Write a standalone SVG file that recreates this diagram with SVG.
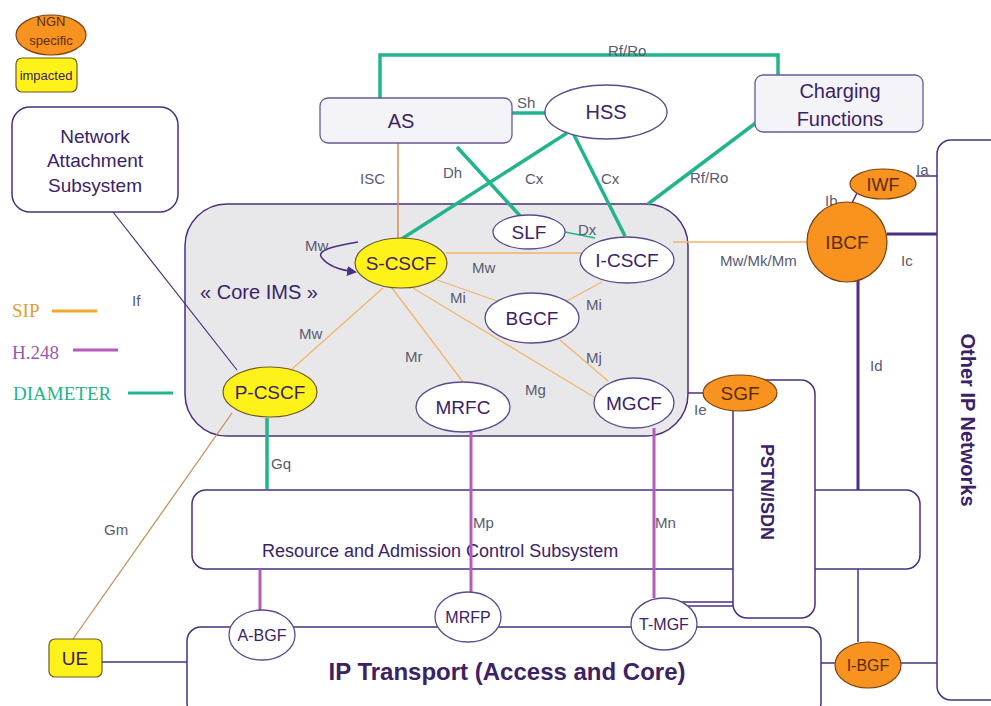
<svg xmlns="http://www.w3.org/2000/svg" width="991" height="706" viewBox="0 0 991 706">
<defs>
<style>
.box{fill:#ffffff;stroke:#4a2f80;stroke-width:1.5}
.lbox{fill:#f4f4f8;stroke:#6a5a92;stroke-width:1.3}
.wnode{fill:#ffffff;stroke:#5b4a8b;stroke-width:1.3}
.ynode{fill:#fff21a;stroke:#6e5a20;stroke-width:1.2}
.onode{fill:#f7931e;stroke:#7a4010;stroke-width:1.2}
.t{font-family:"Liberation Sans",Arial,sans-serif;fill:#3b2266;text-anchor:middle}
.nt{font-size:19px}
.ot{fill:#5a2a08}
.b{font-weight:bold}
.lab{font-family:"Liberation Sans",Arial,sans-serif;font-size:15px;fill:#5a5a70}
.sip{stroke:#f2b56a;stroke-width:1.3;fill:none}
.sip2{stroke:#c8905a;stroke-width:1.3;fill:none}
.dia{stroke:#22b48c;stroke-width:3.5;fill:none}
.dia1{stroke:#22b48c;stroke-width:1.5;fill:none}
.h248{stroke:#b65bb9;stroke-width:3;fill:none}
.pl{stroke:#4a2f80;stroke-width:1.5;fill:none}
.plt{stroke:#4a2f80;stroke-width:3;fill:none}
.leg{font-family:"Liberation Serif","Times New Roman",serif;font-size:19px}
</style>
<marker id="arr" markerWidth="10" markerHeight="10" refX="8" refY="5" orient="auto" markerUnits="userSpaceOnUse">
<path d="M0,0 L10,5 L0,10 z" fill="#4a2f80"/>
</marker>
</defs>

<!-- legend -->
<g id="legend">
<ellipse cx="51" cy="35" rx="35" ry="20" class="onode"/>
<text x="51" y="26" class="t ot" font-size="13">NGN</text>
<text x="51" y="45" class="t ot" font-size="13">specific</text>
<rect x="16" y="58" width="61" height="34" rx="6" class="ynode"/>
<text x="46" y="80" class="t" font-size="13" fill="#333">impacted</text>
<text x="12" y="317" class="leg" fill="#e0a030">SIP</text>
<line x1="52" y1="311" x2="97" y2="311" stroke="#f0a830" stroke-width="3"/>
<text x="12" y="359" class="leg" fill="#9b59a8">H.248</text>
<line x1="73" y1="350" x2="118" y2="350" stroke="#b65bb9" stroke-width="3"/>
<text x="13" y="400" class="leg" fill="#22b48c">DIAMETER</text>
<line x1="128" y1="393" x2="173" y2="393" stroke="#22b48c" stroke-width="3"/>
</g>

<!-- big containers -->
<g id="other-ip">
<rect x="937" y="140" width="80" height="560" rx="14" class="box"/>
<text transform="translate(961,420) rotate(90)" class="t b" font-size="20">Other IP Networks</text>
</g>
<g id="racs">
<rect x="192" y="490" width="728" height="79" rx="14" class="box"/>
<text x="262" y="557" class="t" font-size="18" style="text-anchor:start">Resource and Admission Control Subsystem</text>
</g>
<g id="ip-transport">
<rect x="187" y="627" width="634" height="90" rx="14" class="box"/>
<text x="507" y="680" class="t b" font-size="24">IP Transport (Access and Core)</text>
</g>
<g id="pstn">
<rect x="733" y="380" width="82" height="238" rx="14" class="box"/>
<text transform="translate(761,492) rotate(90)" class="t b" font-size="18">PSTN/ISDN</text>
</g>
<g id="core-ims">
<rect x="185" y="204" width="503" height="232" rx="42" fill="#e8e8ea" stroke="#4a2f80" stroke-width="1.5"/>
<text x="259" y="299" class="t" font-size="20">« Core IMS »</text>
</g>

<!-- connectors -->
<g id="connectors">
<polyline points="380,98 380,55 778,55 778,75" class="dia"/>
<line x1="512" y1="113" x2="545" y2="113" class="dia"/>
<line x1="398" y1="143" x2="398" y2="238" stroke="#c99056" stroke-width="1.5"/>
<line x1="457" y1="147" x2="522" y2="218" class="dia"/>
<line x1="567" y1="133" x2="400" y2="240" class="dia"/>
<line x1="573" y1="133" x2="625" y2="236" class="dia"/>
<line x1="757" y1="122" x2="648" y2="204" class="dia"/>
<line x1="565" y1="232" x2="595" y2="238" class="dia1"/>
<path d="M358,242 C335,246 315,250 322,258 C328,266 340,270 355,272" class="pl" marker-end="url(#arr)"/>
<line x1="446" y1="253" x2="581" y2="253" class="sip"/>
<line x1="673" y1="242" x2="807" y2="242" class="sip"/>
<line x1="437" y1="280" x2="500" y2="302" class="sip"/>
<line x1="602" y1="282" x2="565" y2="302" class="sip"/>
<line x1="560" y1="340" x2="608" y2="381" class="sip"/>
<line x1="413" y1="288" x2="594" y2="397" class="sip"/>
<line x1="392" y1="288" x2="463" y2="382" class="sip"/>
<line x1="383" y1="288" x2="292" y2="369" class="sip"/>
<line x1="113" y1="212" x2="237" y2="370" stroke="#4a2f80" stroke-width="1.2"/>
<line x1="267" y1="418" x2="267" y2="489" class="dia"/>
<line x1="232" y1="413" x2="73" y2="639" class="sip2"/>
<line x1="471" y1="432" x2="471" y2="592" class="h248"/>
<line x1="654" y1="428" x2="654" y2="598" class="h248"/>
<line x1="260" y1="569" x2="260" y2="610" class="h248"/>
<line x1="681" y1="602" x2="733" y2="602" class="pl" stroke-width="2"/>
<line x1="684" y1="606" x2="733" y2="606" class="pl" stroke-width="2"/>
<line x1="102" y1="662" x2="187" y2="662" class="pl" stroke-width="1.2"/>
<line x1="688" y1="393" x2="705" y2="393" class="pl" stroke-width="1.2"/>
<line x1="887" y1="234" x2="937" y2="234" class="plt"/>
<line x1="916" y1="176" x2="937" y2="176" class="pl"/>
<line x1="851" y1="205" x2="857" y2="193" class="pl"/>
<line x1="858" y1="278" x2="858" y2="490" class="plt"/>
<line x1="858" y1="569" x2="858" y2="642" class="pl" stroke-width="1.2"/>
<line x1="821" y1="663" x2="835" y2="663" class="pl"/>
<line x1="901" y1="663" x2="937" y2="663" class="pl"/>
</g>

<!-- interface labels -->
<g id="labels">
<text x="608" y="56" class="lab">Rf/Ro</text>
<text x="517" y="108" class="lab">Sh</text>
<text x="360" y="184" class="lab">ISC</text>
<text x="443" y="178" class="lab">Dh</text>
<text x="525" y="184" class="lab">Cx</text>
<text x="601" y="184" class="lab">Cx</text>
<text x="690" y="183" class="lab">Rf/Ro</text>
<text x="578" y="235" class="lab">Dx</text>
<text x="305" y="251" class="lab">Mw</text>
<text x="472" y="273" class="lab">Mw</text>
<text x="450" y="303" class="lab">Mi</text>
<text x="586" y="310" class="lab">Mi</text>
<text x="586" y="363" class="lab">Mj</text>
<text x="299" y="339" class="lab">Mw</text>
<text x="405" y="362" class="lab">Mr</text>
<text x="525" y="395" class="lab">Mg</text>
<text x="694" y="415" class="lab">Ie</text>
<text x="720" y="266" class="lab">Mw/Mk/Mm</text>
<text x="825" y="206" class="lab">Ib</text>
<text x="916" y="175" class="lab">Ia</text>
<text x="901" y="266" class="lab">Ic</text>
<text x="870" y="371" class="lab">Id</text>
<text x="132" y="306" class="lab">If</text>
<text x="271" y="469" class="lab">Gq</text>
<text x="104" y="535" class="lab">Gm</text>
<text x="473" y="528" class="lab">Mp</text>
<text x="655" y="528" class="lab">Mn</text>
</g>

<!-- nodes -->
<g id="nass">
<rect x="12" y="107" width="166" height="105" rx="18" class="box"/>
<text x="95" y="143" class="t nt">Network</text>
<text x="95" y="167" class="t nt">Attachment</text>
<text x="95" y="192" class="t nt">Subsystem</text>
</g>
<g id="as">
<rect x="320" y="98" width="192" height="45" rx="8" class="lbox"/>
<text x="401" y="128" class="t" font-size="20">AS</text>
</g>
<g id="hss">
<ellipse cx="606" cy="112" rx="61" ry="27" class="wnode"/>
<text x="606" y="119" class="t" font-size="20">HSS</text>
</g>
<g id="charging">
<rect x="755" y="75" width="168" height="57" rx="8" class="lbox"/>
<text x="840" y="98" class="t" font-size="20">Charging</text>
<text x="840" y="126" class="t" font-size="20">Functions</text>
</g>
<g id="s-cscf">
<ellipse cx="401" cy="263" rx="46" ry="25" class="ynode"/>
<text x="401" y="270" class="t nt" fill="#3b2266">S-CSCF</text>
</g>
<g id="p-cscf">
<ellipse cx="270" cy="392" rx="47" ry="25" class="ynode"/>
<text x="270" y="399" class="t nt">P-CSCF</text>
</g>
<g id="slf">
<ellipse cx="529" cy="232" rx="36" ry="17" class="wnode"/>
<text x="529" y="239" class="t nt">SLF</text>
</g>
<g id="i-cscf">
<ellipse cx="627" cy="260" rx="47" ry="23" class="wnode"/>
<text x="627" y="267" class="t nt">I-CSCF</text>
</g>
<g id="bgcf">
<ellipse cx="532" cy="318" rx="47" ry="25" class="wnode"/>
<text x="532" y="325" class="t nt">BGCF</text>
</g>
<g id="mrfc">
<ellipse cx="463" cy="407" rx="47" ry="25" class="wnode"/>
<text x="463" y="414" class="t nt">MRFC</text>
</g>
<g id="mgcf">
<ellipse cx="634" cy="403" rx="40" ry="25" class="wnode"/>
<text x="634" y="410" class="t nt">MGCF</text>
</g>
<g id="ibcf">
<circle cx="847" cy="242" r="40" class="onode"/>
<text x="847" y="249" class="t nt ot">IBCF</text>
</g>
<g id="iwf">
<ellipse cx="883" cy="184" rx="33" ry="15" class="onode"/>
<text x="883" y="191" class="t ot" font-size="18">IWF</text>
</g>
<g id="sgf">
<ellipse cx="740" cy="393" rx="37" ry="18" class="onode"/>
<text x="740" y="400" class="t nt ot">SGF</text>
</g>
<g id="a-bgf">
<ellipse cx="262" cy="635" rx="33" ry="25" class="wnode"/>
<text x="262" y="641" class="t" font-size="16">A-BGF</text>
</g>
<g id="mrfp">
<ellipse cx="468" cy="617" rx="33" ry="25" class="wnode"/>
<text x="468" y="623" class="t" font-size="16">MRFP</text>
</g>
<g id="t-mgf">
<ellipse cx="664" cy="624" rx="33" ry="26" class="wnode"/>
<text x="664" y="630" class="t" font-size="16">T-MGF</text>
</g>
<g id="i-bgf">
<ellipse cx="868" cy="665" rx="33" ry="23" class="onode"/>
<text x="868" y="671" class="t ot" font-size="16">I-BGF</text>
</g>
<g id="ue">
<rect x="49" y="639" width="53" height="38" rx="6" class="ynode"/>
<text x="75" y="665" class="t" font-size="19">UE</text>
</g>
</svg>
